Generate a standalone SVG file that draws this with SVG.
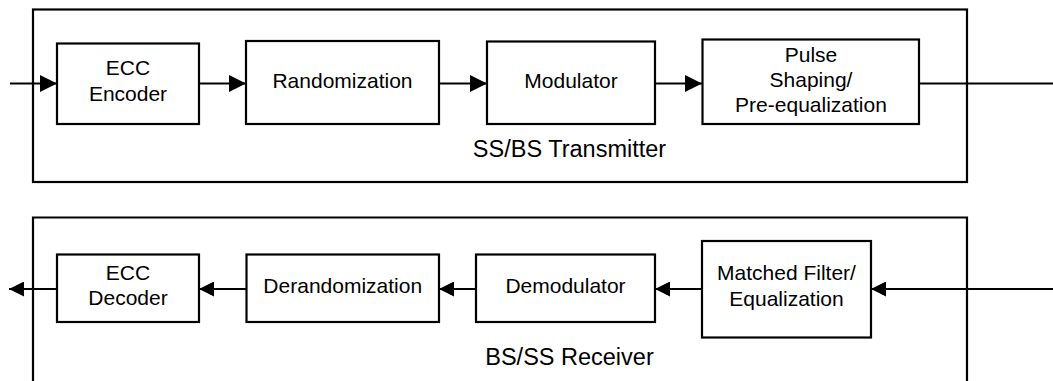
<svg xmlns="http://www.w3.org/2000/svg" width="1053" height="381" viewBox="0 0 1053 381">
  <style>
    .frame { fill: none; stroke: #000; stroke-width: 2.2; }
    .box { fill: #fff; stroke: #000; stroke-width: 2.2; }
    .wire { fill: none; stroke: #000; stroke-width: 2.2; }
    .lbl { font-family: "Liberation Sans", Arial, sans-serif; font-size: 21px; fill: #000; text-anchor: middle; }
    .title { font-family: "Liberation Sans", Arial, sans-serif; font-size: 23.5px; fill: #000; text-anchor: middle; }
  </style>
  <defs>
    <marker id="headTx" viewBox="0 0 10 10" refX="10" refY="5" markerUnits="userSpaceOnUse" markerWidth="17" markerHeight="17" orient="auto">
      <path d="M0,0 L10,5 L0,10 Z" fill="#000"/>
    </marker>
    <marker id="headRx" viewBox="0 0 10 10" refX="10" refY="5" markerUnits="userSpaceOnUse" markerWidth="15" markerHeight="15" orient="auto">
      <path d="M0,0 L10,5 L0,10 Z" fill="#000"/>
    </marker>
  </defs>

  <!-- Transmitter chain -->
  <g id="transmitter">
    <rect class="frame" x="33" y="9.5" width="934" height="172.5"/>
    <text class="title" x="569.5" y="157">SS/BS Transmitter</text>
  </g>

  <!-- Receiver chain (frame runs past the bottom edge) -->
  <g id="receiver">
    <path class="frame" d="M33,400 V217.5 H967 V400"/>
    <text class="title" x="569.5" y="365">BS/SS Receiver</text>
  </g>

  <!-- Connectors -->
  <g id="connectors">
    <line class="wire" x1="10" y1="83.5" x2="57" y2="83.5" marker-end="url(#headTx)"/>
    <line class="wire" x1="199" y1="83.5" x2="246" y2="83.5" marker-end="url(#headTx)"/>
    <line class="wire" x1="439" y1="83.5" x2="487" y2="83.5" marker-end="url(#headTx)"/>
    <line class="wire" x1="655" y1="83.5" x2="702" y2="83.5" marker-end="url(#headTx)"/>
    <line class="wire" x1="919" y1="83.5" x2="1053" y2="83.5"/>

    <line class="wire" x1="1053" y1="289" x2="871" y2="289" marker-end="url(#headRx)"/>
    <line class="wire" x1="702" y1="289" x2="655" y2="289" marker-end="url(#headRx)"/>
    <line class="wire" x1="476" y1="289" x2="439" y2="289" marker-end="url(#headRx)"/>
    <line class="wire" x1="246.5" y1="289" x2="199" y2="289" marker-end="url(#headRx)"/>
    <line class="wire" x1="57" y1="289" x2="9" y2="289" marker-end="url(#headRx)"/>
  </g>

  <!-- Transmitter blocks -->
  <g id="ecc-encoder">
    <rect class="box" x="57" y="43.5" width="142" height="80.5"/>
    <text class="lbl" x="128" y="75">ECC</text>
    <text class="lbl" x="128" y="101">Encoder</text>
  </g>
  <g id="randomization">
    <rect class="box" x="246" y="41" width="193" height="83"/>
    <text class="lbl" x="342.5" y="88.3">Randomization</text>
  </g>
  <g id="modulator">
    <rect class="box" x="487" y="41.5" width="168" height="82.5"/>
    <text class="lbl" x="571" y="88.3">Modulator</text>
  </g>
  <g id="pulse-shaping">
    <rect class="box" x="702.5" y="39.5" width="216.5" height="84.5"/>
    <text class="lbl" x="811" y="61.5">Pulse</text>
    <text class="lbl" x="811" y="86.5">Shaping/</text>
    <text class="lbl" x="811" y="111.7">Pre-equalization</text>
  </g>

  <!-- Receiver blocks -->
  <g id="ecc-decoder">
    <rect class="box" x="57" y="254.5" width="142" height="67.5"/>
    <text class="lbl" x="128" y="280">ECC</text>
    <text class="lbl" x="128" y="304.5">Decoder</text>
  </g>
  <g id="derandomization">
    <rect class="box" x="246.5" y="254.5" width="192.5" height="67.5"/>
    <text class="lbl" x="342.75" y="292.5">Derandomization</text>
  </g>
  <g id="demodulator">
    <rect class="box" x="476" y="254.5" width="179" height="67.5"/>
    <text class="lbl" x="565.5" y="292.5">Demodulator</text>
  </g>
  <g id="matched-filter">
    <rect class="box" x="702" y="241" width="169" height="96.5"/>
    <text class="lbl" x="786.5" y="280">Matched Filter/</text>
    <text class="lbl" x="786.5" y="306">Equalization</text>
  </g>
</svg>
